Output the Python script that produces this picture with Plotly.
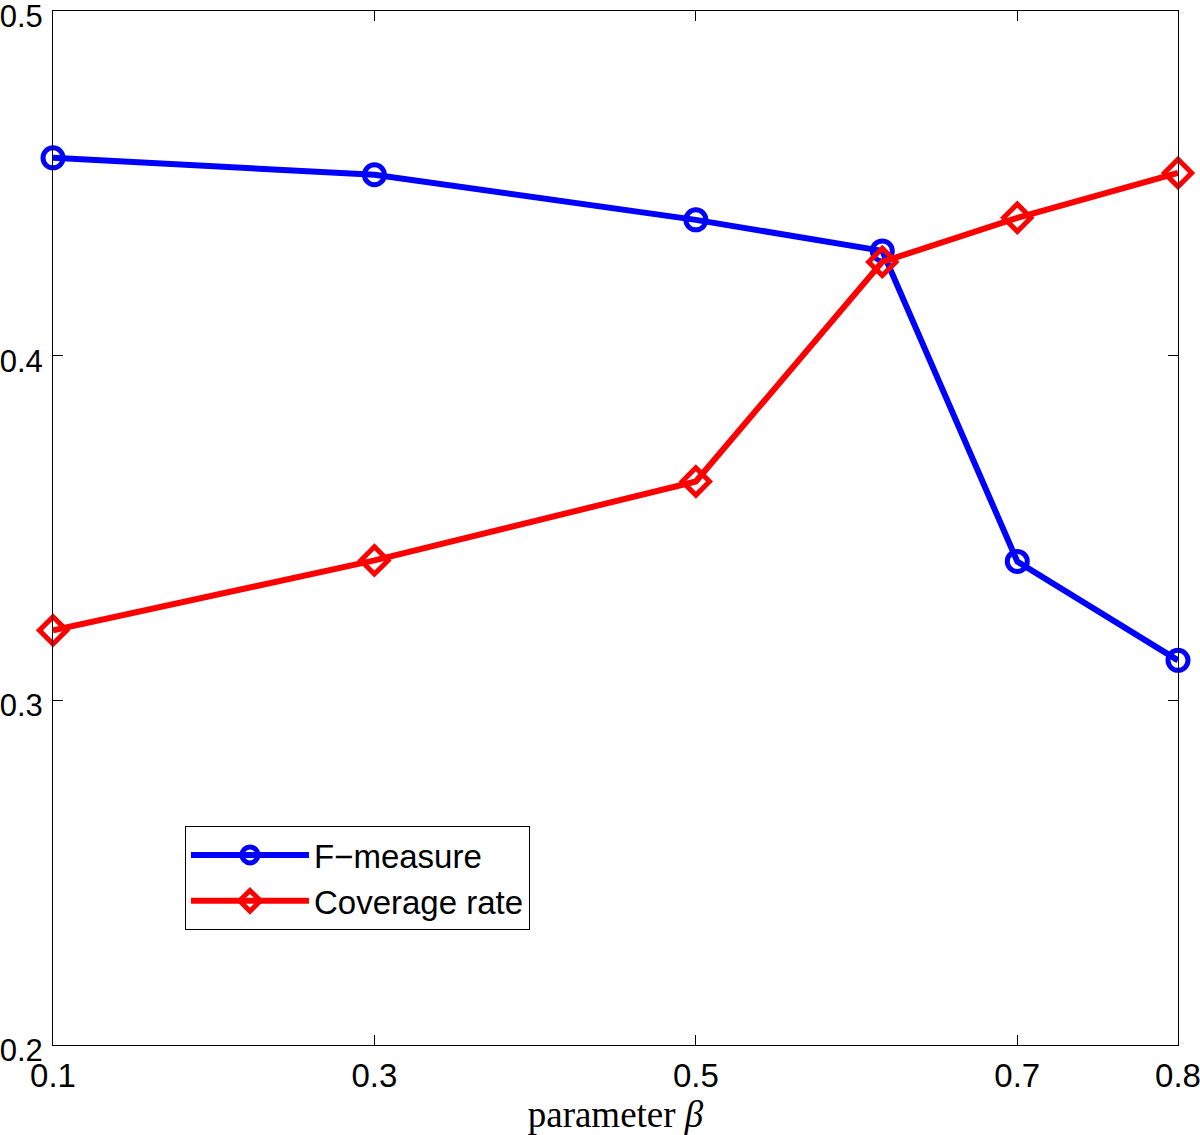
import plotly.graph_objects as go

beta = [0.1, 0.3, 0.5, 0.616, 0.7, 0.8]
f_measure = [0.4574, 0.4525, 0.4394, 0.4304, 0.3403, 0.3116]
coverage = [0.3203, 0.3406, 0.3635, 0.4272, 0.4400, 0.4530]
x_ticks = [0.1, 0.3, 0.5, 0.7, 0.8]
y_ticks = [0.2, 0.3, 0.4, 0.5]

fig = go.Figure()
fig.add_trace(go.Scatter(
    x=beta, y=f_measure, mode="lines+markers", name="F\u2212measure",
    line=dict(color="#0000ff", width=6),
    marker=dict(symbol="circle-open", size=20, color="#0000ff", line=dict(width=5)),
    cliponaxis=False,
))
fig.add_trace(go.Scatter(
    x=beta, y=coverage, mode="lines+markers", name="Coverage rate",
    line=dict(color="#ff0000", width=6),
    marker=dict(symbol="diamond-open", size=21, color="#ff0000", line=dict(width=5)),
    cliponaxis=False,
))

axis_common = dict(
    showline=True, linecolor="black", linewidth=1, mirror="ticks",
    ticks="inside", ticklen=10, tickcolor="black", tickwidth=1,
    showgrid=False, zeroline=False, automargin=False,
    ticklabeloverflow="allow",
)

fig.update_layout(
    width=1200, height=1135,
    margin=dict(l=53, r=22, t=11, b=90),
    plot_bgcolor="white", paper_bgcolor="white",
    xaxis=dict(range=[0.1, 0.8], tickvals=x_ticks, ticktext=[str(v) for v in x_ticks],
               ticklabelstandoff=1,
               tickfont=dict(family="Liberation Sans, Arial, sans-serif", size=33, color="black"),
               title=dict(text="parameter <i>\u03b2</i>", standoff=8,
                          font=dict(family="Liberation Serif, DejaVu Serif, serif", size=37, color="black")),
               **axis_common),
    yaxis=dict(range=[0.2, 0.5], tickvals=y_ticks, ticktext=[str(v) for v in y_ticks],
               ticklabelstandoff=3, ticklabelshift=5,
               tickfont=dict(family="Liberation Sans, Arial, sans-serif", size=31, color="black"),
               **axis_common),
    legend=dict(
        x=0.1173, y=0.2118, xanchor="left", yanchor="top",
        bordercolor="black", borderwidth=1, bgcolor="white",
        font=dict(family="Liberation Sans, Arial, sans-serif", size=33, color="black"),
        itemwidth=118,
    ),
    showlegend=True,
)

fig.write_html("out.html", config={"displayModeBar": False},
               post_script="document.body.style.margin='0';")
